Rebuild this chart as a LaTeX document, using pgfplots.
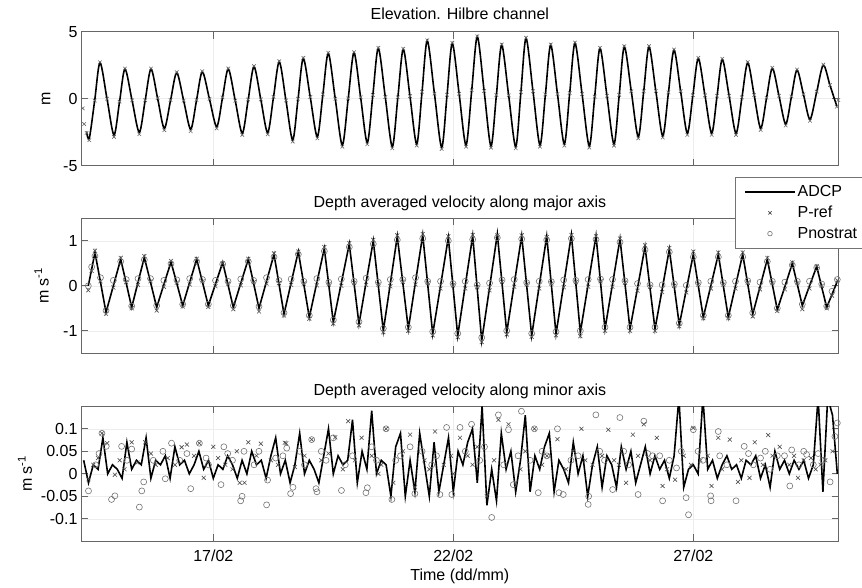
\documentclass[border=0pt]{standalone}
\usepackage{fontspec}
\setmainfont{Liberation Sans}
\usepackage{pgfplots}
\usepackage{pgfplotstable}
\pgfplotsset{compat=1.18}

% ---------- Elevation (m): time in days of February ----------
\pgfplotstableread{
t adcp pref
14.280 nan -0.72
14.310 nan -1.89
14.360 -2.45 -2.55
14.417 -2.96 -3.10
14.529 -0.14 -0.14
14.640 2.69 2.72
14.786 -0.01 0.00
14.931 -2.71 -2.85
15.046 -0.25 -0.22
15.160 2.22 2.25
15.309 -0.15 -0.12
15.458 -2.51 -2.65
15.580 -0.15 -0.12
15.702 2.22 2.25
15.841 0.01 0.04
15.979 -2.21 -2.35
16.109 -0.14 -0.10
16.238 1.94 1.98
16.384 -0.17 -0.14
16.529 -2.28 -2.42
16.650 -0.14 -0.10
16.771 2.01 2.05
16.921 -0.04 -0.01
17.071 -2.09 -2.22
17.192 0.07 0.10
17.313 2.22 2.26
17.459 -0.18 -0.15
17.604 -2.58 -2.70
17.726 -0.10 -0.06
17.848 2.39 2.43
17.991 -0.08 -0.05
18.133 -2.54 -2.66
18.254 0.11 0.14
18.375 2.76 2.80
18.515 -0.16 -0.13
18.654 -3.08 -3.20
18.765 -0.04 0.00
18.875 3.01 3.05
19.021 0.09 0.12
19.167 -2.84 -2.96
19.282 0.28 0.32
19.396 3.39 3.43
19.542 -0.04 0.00
19.688 -3.46 -3.58
19.810 -0.02 0.02
19.931 3.43 3.47
20.070 0.08 0.11
20.208 -3.28 -3.40
20.323 0.24 0.28
20.438 3.76 3.80
20.584 0.09 0.12
20.729 -3.58 -3.70
20.844 0.06 0.10
20.958 3.69 3.73
21.098 0.16 0.19
21.238 -3.38 -3.50
21.348 0.48 0.52
21.458 4.33 4.36
21.608 0.35 0.38
21.758 -3.63 -3.75
21.869 0.25 0.29
21.979 4.13 4.17
22.122 0.34 0.37
22.265 -3.46 -3.58
22.383 0.59 0.63
22.500 4.63 4.66
22.643 0.55 0.58
22.785 -3.53 -3.65
22.897 0.24 0.28
23.008 4.01 4.05
23.154 0.22 0.25
23.300 -3.58 -3.70
23.408 0.47 0.51
23.515 4.51 4.55
23.661 0.53 0.56
23.806 -3.46 -3.58
23.918 0.28 0.32
24.029 4.01 4.05
24.171 0.32 0.35
24.313 -3.38 -3.50
24.424 0.39 0.43
24.535 4.15 4.19
24.684 0.31 0.34
24.833 -3.53 -3.65
24.945 0.12 0.16
25.056 3.76 3.80
25.202 0.19 0.22
25.348 -3.38 -3.50
25.456 0.25 0.29
25.563 3.88 3.92
25.709 0.52 0.55
25.854 -2.84 -2.96
25.966 0.52 0.56
26.077 3.88 3.92
26.220 0.55 0.58
26.363 -2.78 -2.90
26.481 0.43 0.47
26.598 3.63 3.67
26.737 0.53 0.56
26.875 -2.58 -2.70
26.990 0.22 0.26
27.104 3.01 3.05
27.244 0.22 0.25
27.383 -2.58 -2.70
27.494 0.18 0.22
27.604 2.94 2.98
27.747 0.18 0.21
27.890 -2.58 -2.70
28.012 0.06 0.10
28.133 2.69 2.73
28.269 0.24 0.27
28.404 -2.21 -2.33
28.525 0.03 0.07
28.646 2.27 2.31
28.786 0.19 0.22
28.925 -1.89 -2.00
29.043 0.13 0.17
29.160 2.14 2.18
29.296 0.30 0.33
29.431 -1.54 -1.65
29.570 0.49 0.53
29.708 2.51 2.55
29.848 0.99 1.02
29.988 -0.54 -0.60
30.020 nan -0.10
}\elev

% ---------- Major-axis velocity (m/s) ----------
\pgfplotstableread{
t adcp pref pnos
14.396 0.00 -0.10 0.00
14.466 0.37 0.33 0.42
14.535 0.74 0.78 0.66
14.650 0.08 0.10 0.18
14.765 -0.59 -0.62 -0.55
14.918 0.00 -0.04 0.12
15.071 0.59 0.62 0.54
15.186 0.06 0.08 0.14
15.300 -0.48 -0.50 -0.45
15.432 0.08 0.02 0.16
15.563 0.63 0.66 0.58
15.692 0.08 0.10 0.16
15.821 -0.48 -0.55 -0.44
15.970 0.03 -0.02 0.12
16.119 0.53 0.55 0.49
16.241 0.05 0.07 0.13
16.363 -0.44 -0.46 -0.41
16.509 0.08 0.03 0.16
16.654 0.59 0.60 0.54
16.775 0.08 0.10 0.14
16.896 -0.44 -0.47 -0.41
17.046 0.04 -0.01 0.12
17.196 0.52 0.50 0.48
17.307 0.02 0.05 0.10
17.417 -0.48 -0.52 -0.44
17.573 0.06 0.01 0.15
17.729 0.59 0.60 0.54
17.841 0.05 0.08 0.12
17.952 -0.50 -0.57 -0.46
18.109 0.10 0.05 0.18
18.265 0.70 0.72 0.64
18.369 0.04 0.06 0.12
18.473 -0.63 -0.66 -0.60
18.622 0.07 0.02 0.15
18.771 0.76 0.76 0.70
18.886 0.03 0.05 0.10
19.000 -0.70 -0.73 -0.66
19.157 0.07 0.01 0.16
19.313 0.83 0.86 0.77
19.407 0.01 0.03 0.08
19.500 -0.81 -0.84 -0.76
19.667 0.06 0.00 0.15
19.833 0.93 0.95 0.86
19.934 0.04 0.06 0.10
20.035 -0.85 -0.88 -0.80
20.184 0.08 0.02 0.17
20.333 1.00 1.02 0.93
20.438 0.00 0.03 0.08
20.542 -1.00 -1.03 -0.95
20.688 0.05 -0.01 0.14
20.833 1.10 1.12 1.02
20.948 0.07 0.09 0.14
21.063 -0.96 -1.00 -0.92
21.213 0.09 0.03 0.18
21.363 1.13 1.15 1.05
21.467 0.03 0.06 0.10
21.571 -1.07 -1.10 -1.02
21.734 0.00 -0.06 0.10
21.896 1.07 1.10 1.00
21.994 -0.02 0.01 0.05
22.092 -1.11 -1.14 -1.06
22.248 0.00 -0.06 0.10
22.404 1.11 1.13 1.03
22.498 -0.06 -0.03 0.02
22.592 -1.22 -1.25 -1.15
22.755 -0.04 -0.10 0.06
22.917 1.15 1.12 1.07
23.015 0.06 0.09 0.13
23.113 -1.04 -1.08 -1.00
23.269 0.04 -0.02 0.14
23.425 1.11 1.12 1.04
23.529 0.00 0.03 0.07
23.633 -1.11 -1.13 -1.06
23.790 0.00 -0.06 0.10
23.946 1.10 1.08 1.02
24.043 0.02 0.05 0.09
24.140 -1.07 -1.10 -1.02
24.300 0.03 -0.03 0.13
24.460 1.13 1.13 1.05
24.553 0.05 0.08 0.12
24.646 -1.04 -1.12 -1.00
24.810 0.04 -0.02 0.14
24.973 1.11 1.10 1.03
25.067 0.08 0.10 0.15
25.160 -0.96 -1.00 -0.92
25.317 0.04 -0.02 0.14
25.473 1.04 1.05 0.97
25.577 0.04 0.07 0.11
25.681 -0.96 -1.00 -0.92
25.838 -0.05 -0.11 0.05
25.994 0.87 0.90 0.80
26.098 -0.05 -0.02 0.02
26.202 -0.96 -1.00 -0.92
26.351 -0.08 -0.14 0.02
26.500 0.81 0.84 0.75
26.604 -0.03 0.00 0.04
26.708 -0.87 -0.90 -0.83
26.854 -0.09 -0.15 0.01
27.000 0.70 0.76 0.64
27.104 0.00 0.03 0.07
27.208 -0.70 -0.72 -0.66
27.365 0.00 -0.06 0.10
27.521 0.70 0.74 0.64
27.625 0.00 0.03 0.07
27.729 -0.70 -0.72 -0.66
27.879 0.00 -0.06 0.10
28.029 0.70 0.74 0.64
28.134 0.04 0.07 0.11
28.238 -0.63 -0.68 -0.60
28.390 -0.02 -0.08 0.08
28.542 0.59 0.62 0.54
28.646 0.03 0.06 0.10
28.750 -0.53 -0.56 -0.50
28.907 -0.02 -0.08 0.08
29.063 0.50 0.52 0.46
29.167 0.03 0.06 0.10
29.271 -0.44 -0.52 -0.41
29.421 0.00 -0.06 0.10
29.571 0.43 0.44 0.40
29.675 -0.03 0.00 0.04
29.779 -0.48 -0.50 -0.45
29.890 -0.19 -0.22 -0.12
30.000 0.10 0.12 0.14
}\major

% ---------- Minor-axis velocity: ADCP ----------
\pgfplotstableread{
t v
14.3 0.03
14.4 -0.02
14.5 0.02
14.6 0.01
14.7 0.08
14.8 0.00
14.9 0.02
15.0 0.01
15.1 -0.01
15.2 0.07
15.3 0.01
15.4 0.03
15.5 0.02
15.6 0.08
15.7 -0.01
15.8 0.03
15.9 0.02
16.0 0.04
16.1 -0.01
16.2 0.06
16.3 0.02
16.4 0.03
16.5 0.00
16.6 0.02
16.7 0.05
16.8 0.01
16.9 0.03
17.0 -0.01
17.1 0.02
17.2 0.01
17.3 0.04
17.4 0.02
17.5 -0.01
17.6 0.03
17.7 0.00
17.8 0.05
17.9 0.02
18.0 0.03
18.1 -0.01
18.2 0.04
18.3 0.08
18.4 0.00
18.5 0.03
18.6 -0.02
18.7 0.02
18.8 0.09
18.9 0.00
19.0 0.03
19.1 0.01
19.2 -0.02
19.3 0.04
19.4 0.10
19.5 0.00
19.6 0.04
19.7 0.02
19.8 0.03
19.9 0.12
20.0 -0.02
20.1 0.05
20.2 0.01
20.3 0.14
20.4 0.00
20.5 0.03
20.6 0.02
20.7 -0.05
20.8 0.06
20.9 0.09
21.0 -0.05
21.1 0.03
21.2 -0.04
21.3 0.09
21.4 0.02
21.5 -0.05
21.6 0.07
21.7 -0.04
21.8 0.02
21.9 0.08
22.0 -0.04
22.1 0.05
22.2 0.02
22.3 0.07
22.4 0.10
22.5 -0.02
22.6 0.15
22.7 -0.07
22.8 0.01
22.9 -0.06
23.0 0.09
23.1 0.01
23.2 0.05
23.3 -0.04
23.4 0.03
23.5 0.13
23.6 -0.04
23.7 0.04
23.8 0.01
23.9 0.06
24.0 0.09
24.1 -0.04
24.2 0.03
24.3 0.01
24.4 -0.02
24.5 0.07
24.6 0.00
24.7 0.04
24.8 -0.05
24.9 0.02
25.0 0.06
25.1 -0.03
25.2 0.04
25.3 0.02
25.4 -0.03
25.5 0.06
25.6 0.01
25.7 0.05
25.8 -0.02
25.9 0.02
26.0 0.06
26.1 0.00
26.2 0.04
26.3 0.01
26.4 0.03
26.5 -0.01
26.6 0.04
26.7 0.17
26.8 -0.03
26.9 0.01
27.0 0.02
27.1 0.00
27.2 0.17
27.3 0.01
27.4 0.03
27.5 -0.01
27.6 0.02
27.7 0.04
27.8 0.01
27.9 0.02
28.0 -0.01
28.1 0.03
28.2 0.02
28.3 0.04
28.4 -0.01
28.5 0.02
28.6 -0.03
28.7 0.05
28.8 0.01
28.9 0.03
29.0 0.00
29.1 0.03
29.2 0.01
29.3 0.03
29.4 -0.01
29.5 0.02
29.6 0.17
29.7 -0.04
29.8 0.17
29.9 0.13
30.0 0.00
}\minorA

% ---------- Minor-axis velocity: P-ref ----------
\pgfplotstableread{
t v
14.40 -0.012
14.50 0.020
14.60 0.035
14.68 0.090
14.79 0.068
14.95 -0.002
15.05 0.030
15.15 0.010
15.30 0.070
15.42 0.025
15.58 0.070
15.70 0.045
15.80 0.020
16.05 0.035
16.20 0.020
16.34 0.059
16.45 0.065
16.60 0.040
16.71 0.068
16.80 -0.009
17.00 0.060
17.10 0.035
17.25 0.020
17.40 0.010
17.49 0.050
17.55 -0.020
17.65 -0.020
17.73 0.070
17.90 0.040
17.99 0.067
18.20 0.030
18.35 0.020
18.49 0.069
18.52 0.068
18.70 0.015
18.90 0.040
19.05 0.076
19.25 0.030
19.40 0.045
19.54 0.081
19.70 0.010
19.81 0.117
19.95 0.030
20.09 0.080
20.30 0.040
20.44 0.000
20.50 0.020
20.60 0.100
20.75 -0.020
20.95 0.050
21.10 0.087
21.20 -0.030
21.40 0.030
21.50 0.010
21.62 0.094
21.80 0.020
21.95 0.040
22.00 0.000
22.14 0.080
22.30 0.040
22.40 0.020
22.50 0.060
22.70 -0.050
22.85 0.030
22.94 0.120
23.15 0.110
23.30 -0.020
23.40 0.010
23.50 0.050
23.69 0.100
23.85 0.020
23.95 0.040
24.17 0.077
24.35 0.010
24.50 0.050
24.67 0.100
24.75 0.030
24.90 0.020
25.10 0.040
25.23 0.098
25.35 0.030
25.45 0.020
25.60 -0.020
25.74 0.087
25.85 0.040
25.97 0.110
26.10 0.030
26.24 0.080
26.36 -0.027
26.45 0.010
26.62 -0.013
26.80 0.040
26.95 0.020
27.00 0.102
27.15 0.030
27.30 0.040
27.38 -0.027
27.52 0.080
27.60 0.010
27.76 0.076
27.93 -0.018
28.00 0.030
28.17 -0.009
28.28 0.070
28.45 0.020
28.56 0.086
28.65 0.040
28.80 0.060
29.00 0.020
29.10 0.040
29.18 -0.009
29.30 0.030
29.45 0.035
29.55 0.010
29.65 0.020
29.75 0.030
29.90 0.050
}\minorP

% ---------- Minor-axis velocity: Pnostrat ----------
\pgfplotstableread{
t v
14.40 -0.038
14.55 0.020
14.62 0.045
14.68 0.090
14.77 0.061
14.88 -0.057
14.95 -0.049
15.09 0.061
15.20 0.030
15.30 0.055
15.46 -0.074
15.51 -0.038
15.55 -0.018
15.75 0.030
15.95 0.050
16.00 -0.011
16.13 0.068
16.30 0.030
16.45 0.045
16.53 -0.033
16.71 0.068
16.85 0.035
16.90 0.020
17.16 -0.024
17.22 0.060
17.30 0.045
17.40 0.030
17.57 -0.060
17.60 -0.050
17.64 0.050
17.85 0.020
17.95 0.050
18.11 -0.069
18.13 -0.014
18.30 0.035
18.45 0.040
18.53 0.057
18.61 -0.044
18.66 -0.030
18.80 0.050
18.90 0.020
19.05 0.076
19.14 -0.033
19.16 -0.040
19.25 0.050
19.35 0.030
19.50 0.080
19.67 -0.037
19.75 0.020
19.90 0.040
20.18 -0.042
20.21 -0.031
20.30 0.060
20.40 0.030
20.60 0.100
20.72 -0.057
20.80 0.030
20.90 0.040
21.10 0.060
21.20 -0.044
21.35 0.050
21.55 0.020
21.65 0.040
21.72 -0.046
21.86 0.103
21.97 -0.046
22.14 0.103
22.25 0.050
22.38 0.110
22.55 0.030
22.65 0.060
22.80 -0.097
22.94 0.131
23.05 0.020
23.15 0.098
23.25 -0.024
23.35 0.040
23.42 0.139
23.60 0.030
23.69 0.100
23.77 -0.042
23.85 0.050
23.95 0.040
24.17 0.100
24.20 -0.042
24.29 -0.046
24.45 0.030
24.60 0.040
24.81 -0.068
24.82 -0.050
24.97 0.131
25.05 0.050
25.15 0.030
25.32 -0.035
25.47 0.125
25.55 0.050
25.65 0.020
25.85 -0.046
25.97 0.117
26.05 0.045
26.15 0.040
26.30 0.040
26.36 -0.060
26.50 0.030
26.65 0.013
26.75 0.050
26.85 -0.053
26.90 -0.091
27.00 0.098
27.10 0.050
27.20 0.030
27.36 -0.049
27.37 -0.060
27.52 0.094
27.55 0.040
27.70 0.020
27.89 -0.060
28.06 0.061
28.15 0.045
28.25 0.020
28.40 0.035
28.50 0.050
28.60 0.010
28.75 0.040
28.90 0.040
29.01 -0.027
29.05 0.053
29.20 0.020
29.30 0.050
29.36 0.043
29.50 0.020
29.60 0.045
29.70 0.030
29.85 -0.018
29.95 0.083
30.00 0.113
}\minorN

\newcommand{\chartfont}{\fontsize{16}{19}\selectfont}

\pgfplotsset{
  panel/.style={
    scale only axis, width=757.7pt, anchor=south west,
    xmin=14.244, xmax=30.029,
    xtick={17,22,27},
    axis line style={black!60, line width=0.8pt},
    every tick/.style={black!60, line width=0.8pt},
    tick align=inside, major tick length=7pt,
    grid=major, grid style={black!7, line width=0.5pt},
    tick label style={font=\chartfont},
    label style={font=\chartfont},
    title style={font=\chartfont, anchor=base, yshift=0pt},
  },
  adcpstyle/.style={black, line width=1.6pt, no markers},
  prefstyle/.style={only marks, mark=x, mark size=2.8pt, color=black!70, mark options={line width=0.6pt}},
  pnosstyle/.style={only marks, mark=o, mark size=3pt, color=black!55, mark options={line width=0.6pt}},
  linelegend/.style={legend image code/.code={\draw[##1, line width=1.3pt] (0pt,0pt) -- (50pt,0pt);}},
  marklegend/.style={legend image code/.code={\path[draw=none] (0pt,0pt) -- (50pt,0pt); \draw[##1, mark size=2.3pt] plot coordinates {(25pt,0pt)};}},
}

\begin{document}
\begin{tikzpicture}

% ---------------- top: elevation ----------------
\begin{axis}[panel, at={(81pt,-165.7pt)}, height=134pt,
  ymin=-5, ymax=5, ytick={-5,0,5}, yticklabels={-5,0,5},
  xticklabels={},
  title={Elevation. Hilbre channel},
  title style={at={(axis description cs:0.5,1.048)}, anchor=base, yshift=0pt},
  ylabel={m},
  ylabel style={at={(axis description cs:-0.046,0.5)}, anchor=center},
]
\addplot[adcpstyle, smooth] table[x=t, y=adcp] {\elev};
\addplot[prefstyle, mark size=2.5pt, color=black!60] table[x=t, y=pref] {\elev};
\end{axis}

% ---------------- middle: major axis ----------------
\begin{axis}[panel, at={(81pt,-353.3pt)}, height=135pt,
  ymin=-1.5, ymax=1.5, ytick={-1,0,1}, yticklabels={-1,0,1},
  xticklabels={},
  title={Depth averaged velocity along major axis},
  title style={at={(axis description cs:0.5,1.032)}, anchor=base, yshift=0pt},
  ylabel={m s\textsuperscript{-1}},
  ylabel style={at={(axis description cs:-0.052,0.5)}, anchor=center},
  legend style={at={(axis description cs:0.863,1.304)}, anchor=north west,
    draw=black!55, line width=0.8pt, fill=white, font=\chartfont,
    inner xsep=9pt, inner ysep=6pt, row sep=4pt},
  legend cell align=left,
]
\addplot[adcpstyle, linelegend] table[x=t, y=adcp] {\major};
\addlegendentry{ADCP}
\addplot[prefstyle, marklegend] table[x=t, y=pref] {\major};
\addlegendentry{P-ref}
\addplot[pnosstyle, marklegend] table[x=t, y=pnos] {\major};
\addlegendentry{Pnostrat}
\end{axis}

% ---------------- bottom: minor axis ----------------
\begin{axis}[panel, at={(81pt,-541.3pt)}, height=135pt,
  ymin=-0.15, ymax=0.15,
  ytick={-0.1,-0.05,0,0.05,0.1}, yticklabels={-0.1,-0.05,0,0.05,0.1},
  xticklabels={17/02,22/02,27/02},
  xticklabel style={yshift=-5pt},
  title={Depth averaged velocity along minor axis},
  title style={at={(axis description cs:0.5,1.039)}, anchor=base, yshift=0pt},
  xlabel={Time (dd/mm)},
  xlabel style={at={(axis description cs:0.5,-0.262)}, anchor=center},
  ylabel={m s\textsuperscript{-1}},
  ylabel style={at={(axis description cs:-0.074,0.5)}, anchor=center},
]
\addplot[adcpstyle] table[x=t, y=v] {\minorA};
\addplot[prefstyle] table[x=t, y=v] {\minorP};
\addplot[pnosstyle] table[x=t, y=v] {\minorN};
\end{axis}

\pgfresetboundingbox
\path[use as bounding box] (0pt,0pt) rectangle (862pt,-588pt);
\end{tikzpicture}
\end{document}
